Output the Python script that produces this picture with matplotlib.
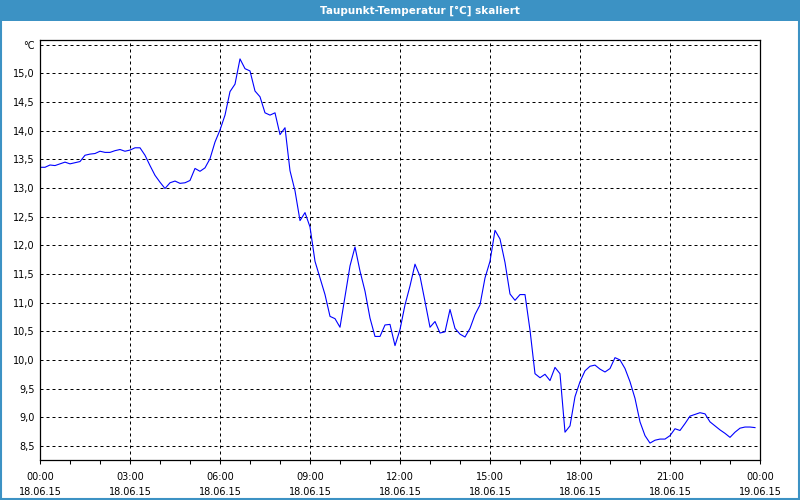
import matplotlib.pyplot as plt
from matplotlib.patches import Rectangle
import numpy as np

# Taupunkt in 10-Minuten-Schritten, 18.06.15 00:00 bis 23:50
taupunkt = [13.36, 13.36, 13.40, 13.39, 13.42, 13.45, 13.42, 13.44, 13.46, 13.57,
            13.59, 13.60, 13.64, 13.62, 13.62, 13.65, 13.67, 13.64, 13.66, 13.70,
            13.70, 13.57, 13.39, 13.22, 13.10, 12.99, 13.09, 13.12, 13.08, 13.09,
            13.13, 13.34, 13.29, 13.35, 13.51, 13.80, 14.01, 14.27, 14.68, 14.81,
            15.25, 15.08, 15.04, 14.69, 14.59, 14.31, 14.27, 14.31, 13.93, 14.05,
            13.30, 12.95, 12.43, 12.57, 12.32, 11.72, 11.43, 11.14, 10.76, 10.72,
            10.57, 11.11, 11.64, 11.97, 11.55, 11.20, 10.73, 10.41, 10.41, 10.61,
            10.62, 10.25, 10.53, 10.96, 11.29, 11.67, 11.46, 11.02, 10.57, 10.67,
            10.47, 10.49, 10.88, 10.55, 10.45, 10.40, 10.55, 10.79, 10.96, 11.43,
            11.72, 12.26, 12.11, 11.70, 11.15, 11.04, 11.14, 11.14, 10.52, 9.76,
            9.69, 9.75, 9.64, 9.87, 9.76, 8.74, 8.85, 9.36, 9.62, 9.81,
            9.89, 9.91, 9.84, 9.79, 9.85, 10.04, 10.00, 9.85, 9.62, 9.33,
            8.92, 8.68, 8.55, 8.60, 8.62, 8.62, 8.68, 8.80, 8.77, 8.89,
            9.02, 9.05, 9.08, 9.06, 8.92, 8.85, 8.78, 8.72, 8.65, 8.74,
            8.81, 8.83, 8.83, 8.82]
stunden = np.arange(len(taupunkt)) / 6.0

x_ticks = [0, 3, 6, 9, 12, 15, 18, 21, 24]
x_labels = ["00:00\n18.06.15", "03:00\n18.06.15", "06:00\n18.06.15",
            "09:00\n18.06.15", "12:00\n18.06.15", "15:00\n18.06.15",
            "18:00\n18.06.15", "21:00\n18.06.15", "00:00\n19.06.15"]
y_ticks = [8.5, 9.0, 9.5, 10.0, 10.5, 11.0, 11.5, 12.0, 12.5, 13.0,
           13.5, 14.0, 14.5, 15.0, 15.5]
y_labels = ["8,5", "9,0", "9,5", "10,0", "10,5", "11,0", "11,5", "12,0",
            "12,5", "13,0", "13,5", "14,0", "14,5", "15,0", "°C"]

blau = "#3c92c4"

fig = plt.figure(figsize=(8, 5), dpi=100)
ax = fig.add_axes([0.05, 0.08, 0.90, 0.84])

# Titelleiste und Rahmen
fig.patches.append(Rectangle((0, 0.958), 1, 0.042, transform=fig.transFigure,
                             facecolor=blau, edgecolor="none", zorder=0))
fig.patches.append(Rectangle((0.001, 0.002), 0.998, 0.997, transform=fig.transFigure,
                             facecolor="none", edgecolor=blau, lw=1.5, zorder=5))
fig.text(0.525, 0.979, "Taupunkt-Temperatur [°C] skaliert", color="white",
         fontsize=7.5, fontweight="bold", ha="center", va="center")

ax.plot(stunden, taupunkt, color="#0000ff", lw=0.8)

ax.set_xlim(0, 24)
ax.set_ylim(8.255, 15.58)
ax.set_xticks(x_ticks)
ax.set_xticklabels(x_labels, fontsize=7, linespacing=1.58)
ax.set_xticks(np.arange(0, 25, 1), minor=True)
ax.set_yticks(y_ticks)
ax.set_yticklabels(y_labels, fontsize=7)

ax.tick_params(axis="x", which="both", direction="out", length=3, width=0.75, pad=6)
ax.tick_params(axis="y", length=0, pad=4)
ax.grid(True, which="major", color="black", lw=0.72, linestyle=(0, (3, 3)))
for s in ax.spines.values():
    s.set_linewidth(0.9)

fig.savefig("out.png", dpi=100)
